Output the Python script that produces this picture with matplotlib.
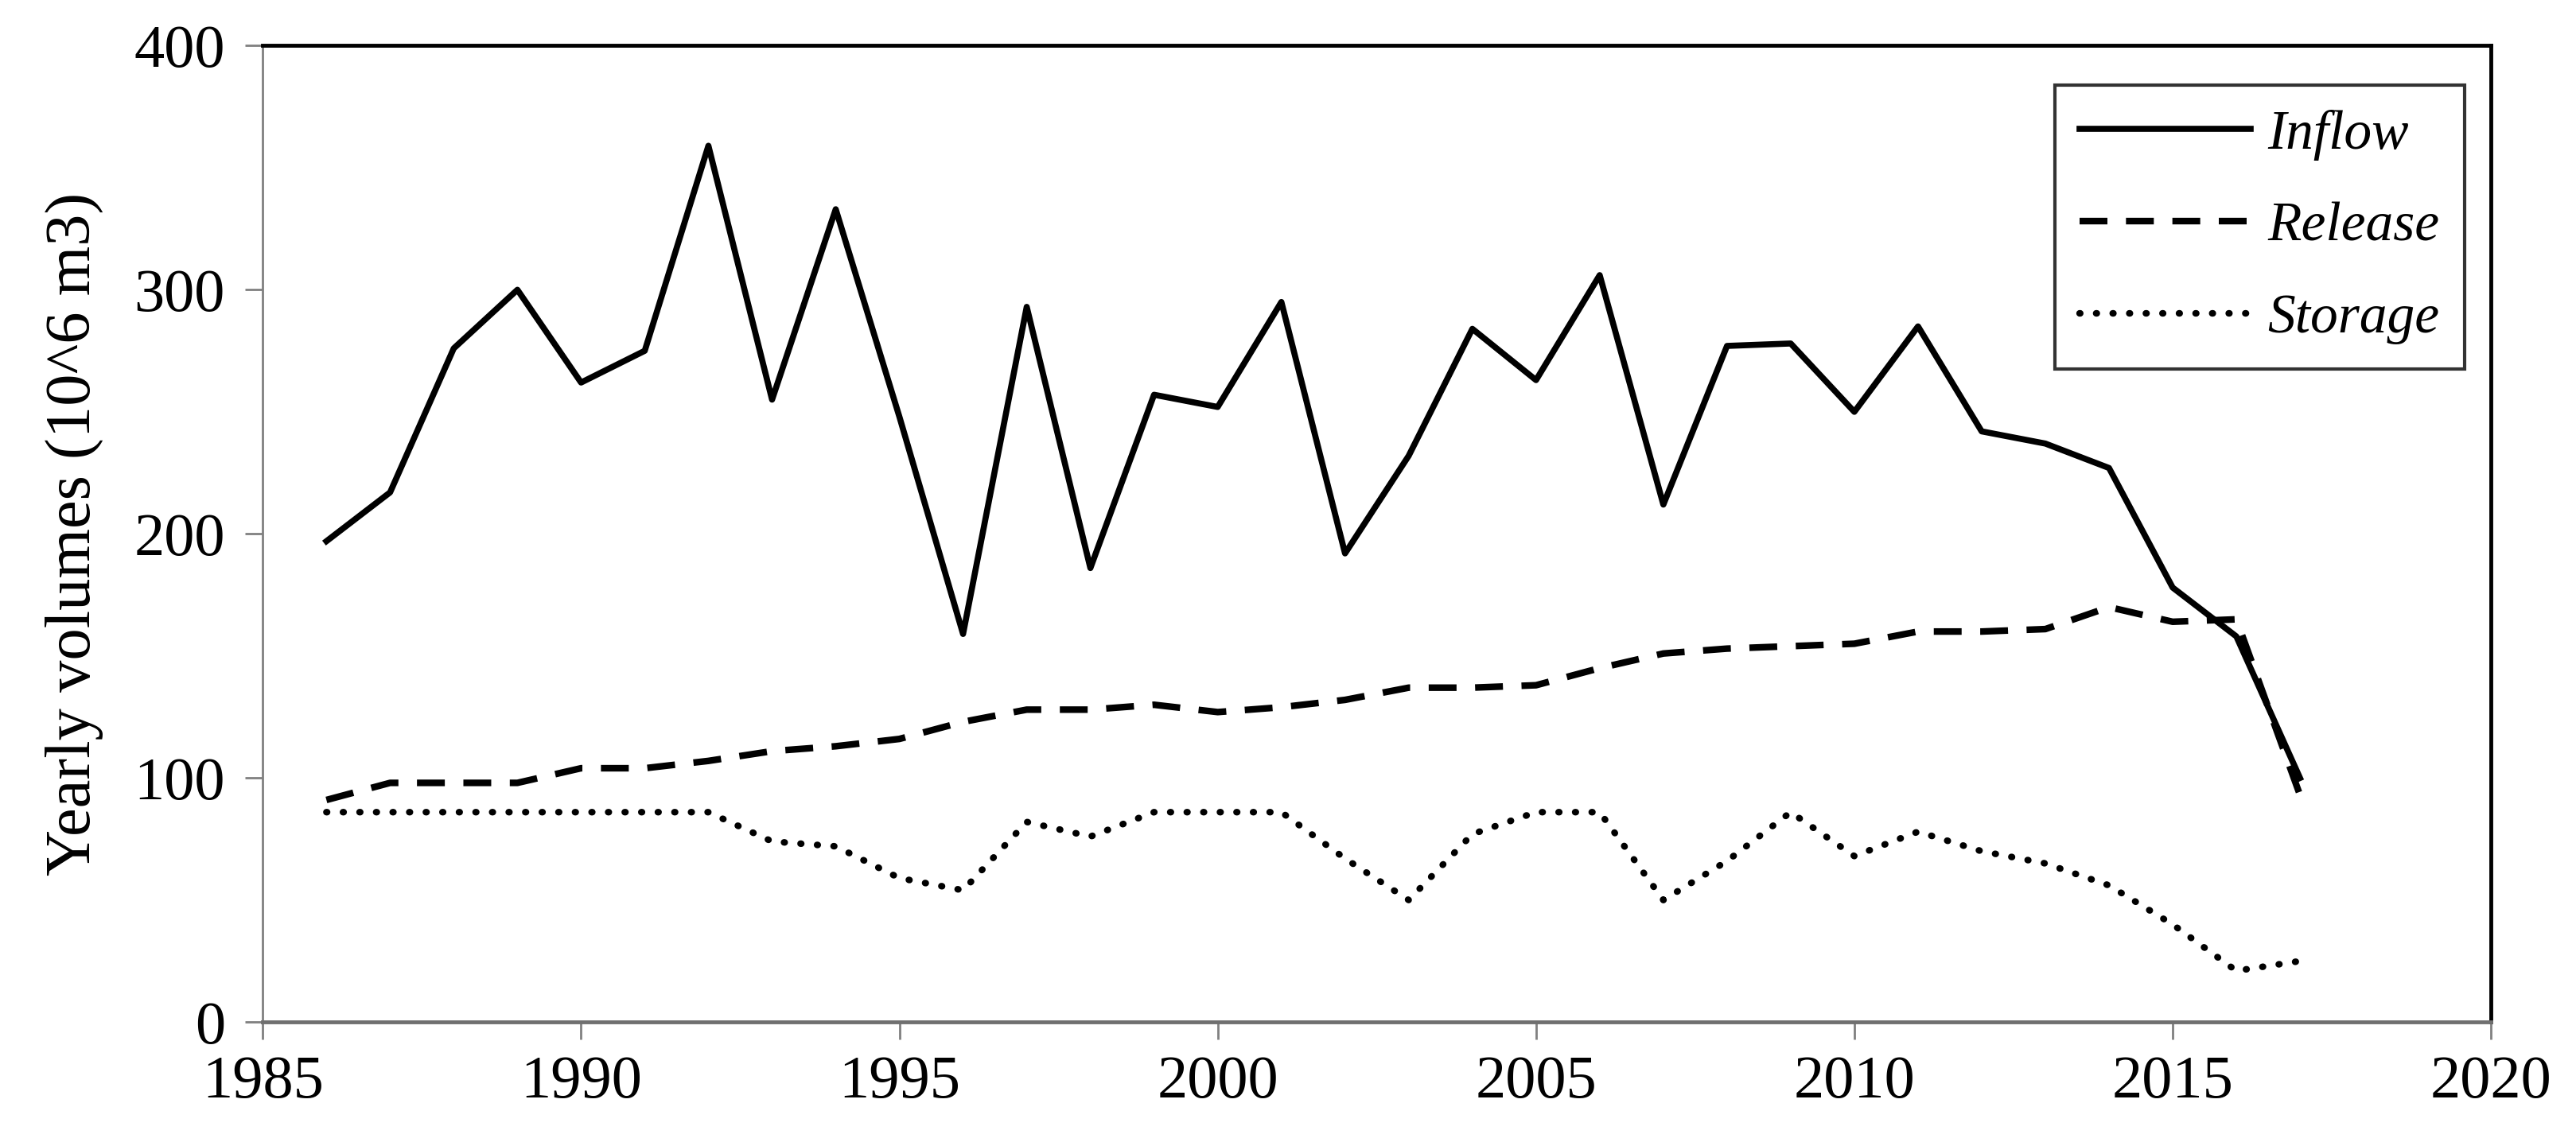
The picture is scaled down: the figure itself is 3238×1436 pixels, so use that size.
import matplotlib.pyplot as plt

# Data
years = list(range(1986, 2018))
inflow = [197, 217, 276, 300, 262, 275, 359, 255, 333, 248, 159, 293, 186, 257, 252, 295,
          192, 232, 284, 263, 306, 212, 277, 278, 250, 285, 242, 237, 227, 178, 158, 100]
release = [91, 98, 98, 98, 104, 104, 107, 111, 113, 116, 123, 128, 128, 130, 127, 129,
           132, 137, 137, 138, 145, 151, 153, 154, 155, 160, 160, 161, 170, 164, 165, 93]
storage = [86, 86, 86, 86, 86, 86, 86, 74, 72, 59, 54, 82, 76, 86, 86, 86,
           67, 50, 77, 86, 86, 50, 66, 86, 68, 78, 70, 65, 56, 40, 21, 25]

plt.rcParams['font.family'] = ['Liberation Serif', 'DejaVu Serif']

fig = plt.figure(figsize=(32.38, 14.36), dpi=100)
ax = fig.add_axes([0.102, 0.105, 0.865, 0.855])

ax.plot(years, inflow, color='black', lw=5.5, label='Inflow')
ax.plot(years, release, color='black', lw=6, linestyle=(0, (4.2, 2.8)), label='Release')
ax.plot(years, storage, color='black', lw=6, linestyle=(0, (0.1, 2.4)),
        dash_capstyle='round', label='Storage')

ax.set_xlim(1985, 2020)
ax.set_ylim(0, 400)
ax.set_xticks(range(1985, 2021, 5))
ax.set_yticks(range(0, 401, 100))
ax.tick_params(axis='both', labelsize=55, length=16, width=2, color='#808080', direction='out')
ax.tick_params(axis='y', pad=18)
ax.tick_params(axis='x', pad=14)

ax.spines['left'].set_color('#808080')
ax.spines['left'].set_linewidth(2)
ax.spines['bottom'].set_color('#707070')
ax.spines['bottom'].set_linewidth(3.5)
ax.spines['top'].set_linewidth(3.5)
ax.spines['right'].set_linewidth(3.5)

ax.set_ylabel('Yearly volumes (10^6 m3)', fontsize=58, labelpad=28)

leg = ax.legend(loc='upper right', bbox_to_anchor=(0.988, 0.96), borderaxespad=0,
                prop={'style': 'italic', 'size': 50}, frameon=True, fancybox=False,
                edgecolor='black', handlelength=3.1, labelspacing=0.75,
                borderpad=0.45, handletextpad=0.3)
leg.get_frame().set_linewidth(3)

fig.savefig('out.png', dpi=100)
